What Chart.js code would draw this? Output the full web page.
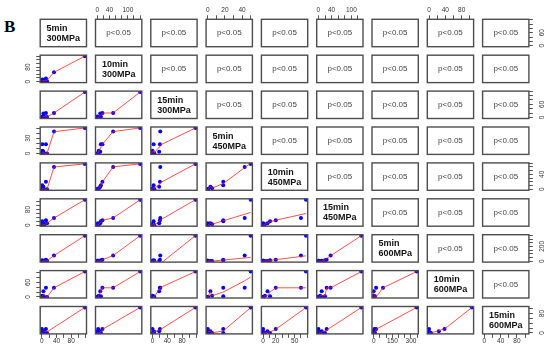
<!DOCTYPE html>
<html><head><meta charset="utf-8">
<script src="https://cdn.jsdelivr.net/npm/chart.js@4/dist/chart.umd.min.js"></script>
<style>
html,body{margin:0;padding:0;background:#fff;}
#wrap{position:relative;width:550px;height:354px;overflow:hidden;background:#fff;}
#wrap canvas{position:absolute;}
.cell{position:absolute;display:flex;align-items:center;justify-content:center;font-family:"Liberation Sans",Arial,sans-serif;pointer-events:none;}
.cell.diag span{font-weight:bold;font-size:9px;line-height:10px;color:#111;text-align:left;white-space:pre;}
.cell.upper span{font-size:8px;color:#444;white-space:pre;}
#tag{position:absolute;left:4px;top:17px;font:bold 17px "Liberation Serif","Times New Roman",serif;color:#000;}
</style></head><body><div id="wrap"><div id="tag">B</div></div>
<script>
// ---- data (one value per sample; null = missing) ----
const varNames = ["5min\n300MPa","10min\n300MPa","15min\n300MPa","5min\n450MPa","10min\n450MPa","15min\n450MPa","5min\n600MPa","10min\n600MPa","15min\n600MPa"];
const v5min300  = [0, 1, 4, 11, 14, 33, 117, 0, 2, 6];
const v10min300 = [3, 12, 10, 17, 2, 52, 140, 0, 5, 0];
const v15min300 = [0, 3, 18, 20, 2, 21, 116, 0, 0, 5];
const v5min450  = [0, 18, 3, 18, 0, 43, 50, 0, 5, 0];
const v10min450 = [0, 11, 7, 20, 0, 60, 68, 0, 3, 0];
const v15min450 = [0, 20, 10, 25, 10, 37, 130, 0, 5, 0];
const v5min600  = [5, 10, 0, 19, 5, 75, 345, 0, 0, 5];
const v10min600 = [0, 3, 24, 38, 0, 38, 105, 0, 5, 0];
const v15min600 = [16, 0, 7, 16, 0, null, 105, 0, 0, 5];
const series = [v5min300, v10min300, v15min300, v5min450, v10min450, v15min450, v5min600, v10min600, v15min600];

// tick positions and the labels R printed on horizontal / vertical axes
const tickVals = [
  [0,20,40,60,80,100,120],
  [0,20,40,60,80,100,120,140],
  [0,20,40,60,80,100,120],
  [0,10,20,30,40,50],
  [0,10,20,30,40,50,60,70],
  [0,20,40,60,80,100,120],
  [0,50,100,150,200,250,300,350],
  [0,20,40,60,80,100],
  [0,20,40,60,80,100]
];
const hLabels = [[0,40,80],[0,40,100],[0,40,80],[0,20,40],[0,20,50],[0,40,100],[0,150,300],[0,40,80],[0,40,80]];
const vLabels = [[0,60],[0,80],[0,60],[0,30],[0,40],[0,80],[0,200],[0,60],[0,80]];
const upperText = "p<0.05";

// ---- R-style lowess (clowess port) ----
function lowess(xIn, yIn, f, nsteps) {
  f = f || 2/3; nsteps = (nsteps == null) ? 3 : nsteps;
  const n = xIn.length;
  const idx = xIn.map((_, k) => k).sort((a, b) => (xIn[a] - xIn[b]) || (a - b));
  const x = [0], y = [0];
  idx.forEach(k => { x.push(xIn[k]); y.push(yIn[k]); });
  if (n < 2) return [{x: x[1], y: y[1]}];
  const ys = new Array(n + 1).fill(0), rw = new Array(n + 1).fill(1), res = new Array(n + 1).fill(0), w = new Array(n + 1).fill(0);
  const delta = 0.01 * (x[n] - x[1]);
  const ns = Math.max(2, Math.min(n, Math.floor(f * n + 1e-7)));
  function lowest(xs, nleft, nright, userw) {
    const range = x[n] - x[1];
    const h = Math.max(xs - x[nleft], x[nright] - xs);
    const h9 = 0.999 * h, h1 = 0.001 * h;
    let a = 0, j = nleft;
    while (j <= n) {
      w[j] = 0;
      const r = Math.abs(x[j] - xs);
      if (r <= h9) {
        if (r <= h1) w[j] = 1; else { const q = r / h; const t = 1 - q * q * q; w[j] = t * t * t; }
        if (userw) w[j] *= rw[j];
        a += w[j];
      } else if (x[j] > xs) break;
      j++;
    }
    const nrt = j - 1;
    if (a <= 0) return null;
    for (j = nleft; j <= nrt; j++) w[j] /= a;
    if (h > 0) {
      a = 0;
      for (j = nleft; j <= nrt; j++) a += w[j] * x[j];
      let b = xs - a, c = 0;
      for (j = nleft; j <= nrt; j++) c += w[j] * (x[j] - a) * (x[j] - a);
      if (Math.sqrt(c) > 0.001 * range) {
        b /= c;
        for (j = nleft; j <= nrt; j++) w[j] *= (b * (x[j] - a) + 1);
      }
    }
    let s = 0;
    for (j = nleft; j <= nrt; j++) s += w[j] * y[j];
    return s;
  }
  let iter = 1;
  while (iter <= nsteps + 1) {
    let nleft = 1, nright = ns, last = 0, i = 1;
    for (;;) {
      if (nright < n) {
        const d1 = x[i] - x[nleft], d2 = x[nright + 1] - x[i];
        if (d1 > d2) { nleft++; nright++; continue; }
      }
      const v = lowest(x[i], nleft, nright, iter > 1);
      ys[i] = (v === null) ? y[i] : v;
      if (last < i - 1) {
        const denom = x[i] - x[last];
        for (let j = last + 1; j < i; j++) { const al = (x[j] - x[last]) / denom; ys[j] = al * ys[i] + (1 - al) * ys[last]; }
      }
      last = i;
      const cut = x[last] + delta;
      for (i = last + 1; i <= n; i++) {
        if (x[i] > cut) break;
        if (x[i] === x[last]) { ys[i] = ys[last]; last = i; }
      }
      i = Math.max(last + 1, i - 1);
      if (last >= n) break;
    }
    let sc = 0;
    for (let k = 1; k <= n; k++) { res[k] = y[k] - ys[k]; sc += Math.abs(res[k]); }
    sc /= n;
    if (iter > nsteps) break;
    const s = []; for (let k = 1; k <= n; k++) s.push(Math.abs(res[k]));
    s.sort((a, b) => a - b);
    const m1 = Math.floor(n / 2);
    let cmad;
    if (n % 2 === 0) { const m2 = n - m1 - 1; cmad = 3 * (s[m1] + s[m2]); } else cmad = 6 * s[m1];
    if (cmad < 1e-7 * sc) break;
    const c9 = 0.999 * cmad, c1 = 0.001 * cmad;
    for (let k = 1; k <= n; k++) {
      const r = Math.abs(res[k]);
      rw[k] = r <= c1 ? 1 : (r <= c9 ? Math.pow(1 - Math.pow(r / cmad, 2), 2) : 0);
    }
    iter++;
  }
  const out = [];
  for (let k = 1; k <= n; k++) out.push({x: x[k], y: ys[k]});
  return out;
}

// ---- layout ----
const N = 9, X0 = 40.2, DX = 55.3, Y0 = 19.3, DY = 35.9, PW = 46.3, PH = 27.4, M = 26, AX = 22;
const FONT = "'Liberation Sans', Arial, sans-serif", FS = 6.5, TL = 4;
const wrap = document.getElementById('wrap');

function range(k) {
  const vals = series[k].filter(v => v != null);
  const lo = Math.min(...vals), hi = Math.max(...vals), p = 0.04 * (hi - lo);
  return {min: lo - p, max: hi + p};
}

const boxPlugin = {
  id: 'panelBox',
  afterDraw(chart) {
    const a = chart.chartArea, ctx = chart.ctx;
    ctx.save();
    ctx.strokeStyle = '#4d4d4d';
    ctx.lineWidth = 1.4;
    ctx.strokeRect(a.left, a.top, a.right - a.left, a.bottom - a.top);
    ctx.restore();
  }
};

function axisOpts(k, pos, horizontal) {
  const r = range(k);
  const lbls = horizontal ? hLabels[k] : vLabels[k];
  let pad;
  if (horizontal) {
    pad = (pos === 'top' ? 13 : 11.6) - TL - FS * 0.6;
  } else {
    const maxLen = Math.max(...lbls.map(v => String(v).length));
    pad = (pos === 'left' ? 11.8 : 13) - TL - maxLen * 0.556 * FS / 2;
  }
  const o = {
    type: 'linear',
    display: !!pos,
    position: pos || (horizontal ? 'bottom' : 'left'),
    min: r.min, max: r.max,
    afterBuildTicks: s => { s.ticks = tickVals[k].filter(v => v >= r.min && v <= r.max).map(v => ({value: v})); },
    grid: {display: true, drawOnChartArea: false, drawTicks: true, tickLength: TL, color: '#555', lineWidth: 1},
    border: {display: false},
    ticks: {
      autoSkip: false,
      minRotation: horizontal ? 0 : 90,
      maxRotation: horizontal ? 0 : 90,
      crossAlign: 'center',
      padding: pad,
      color: '#333',
      font: {family: FONT, size: FS},
      callback: v => lbls.includes(v) ? String(v) : ''
    }
  };
  if (pos) o.afterFit = s => { if (horizontal) s.height = AX; else s.width = AX; };
  return o;
}

for (let i = 0; i < N; i++) {
  for (let j = 0; j < N; j++) {
    const L = X0 + DX * j, T = Y0 + DY * i;
    const cl = Math.floor(L) - M, ct = Math.floor(T) - M;
    const cw = Math.ceil(PW) + 2 * M + 2, ch = Math.ceil(PH) + 2 * M + 2;
    let padL = L - cl, padT = T - ct;
    let padR = cw - padL - PW, padB = ch - padT - PH;

    let xpos = null, ypos = null;
    if (i === 0 && j % 2 === 1) xpos = 'top';
    if (i === N - 1 && j % 2 === 0) xpos = 'bottom';
    if (j === 0 && i % 2 === 1) ypos = 'left';
    if (j === N - 1 && i % 2 === 0) ypos = 'right';
    if (xpos === 'top') padT -= AX;
    if (xpos === 'bottom') padB -= AX;
    if (ypos === 'left') padL -= AX;
    if (ypos === 'right') padR -= AX;

    const cv = document.createElement('canvas');
    cv.width = cw; cv.height = ch;
    cv.style.left = cl + 'px'; cv.style.top = ct + 'px';
    cv.style.width = cw + 'px'; cv.style.height = ch + 'px';
    wrap.appendChild(cv);

    const datasets = [];
    if (i > j) {
      const pts = [];
      series[j].forEach((xv, k) => { const yv = series[i][k]; if (xv != null && yv != null) pts.push({x: xv, y: yv}); });
      const sm = lowess(pts.map(p => p.x), pts.map(p => p.y));
      datasets.push({data: sm, showLine: true, borderColor: 'rgba(255,20,20,0.75)', borderWidth: 1, pointRadius: 0, order: 0, clip: 0, tension: 0});
      datasets.push({data: pts, showLine: false, pointRadius: 2, pointBackgroundColor: '#0000ff', pointBorderColor: '#0000ff', pointBorderWidth: 0, pointStyle: 'circle', order: 1});
    }

    new Chart(cv, {
      type: 'scatter',
      data: {datasets},
      options: {
        responsive: false, animation: false, devicePixelRatio: 1, events: [],
        layout: {padding: {left: padL, right: padR, top: padT, bottom: padB}},
        plugins: {legend: {display: false}, tooltip: {enabled: false}},
        scales: {x: axisOpts(j, xpos, true), y: axisOpts(i, ypos, false)}
      },
      plugins: [boxPlugin]
    });

    if (i <= j) {
      const d = document.createElement('div');
      d.className = 'cell ' + (i === j ? 'diag' : 'upper');
      d.style.left = L + 'px'; d.style.top = T + 'px';
      d.style.width = PW + 'px'; d.style.height = PH + 'px';
      const sp = document.createElement('span');
      sp.textContent = i === j ? varNames[i] : upperText;
      d.appendChild(sp);
      wrap.appendChild(d);
    }
  }
}
</script></body></html>
